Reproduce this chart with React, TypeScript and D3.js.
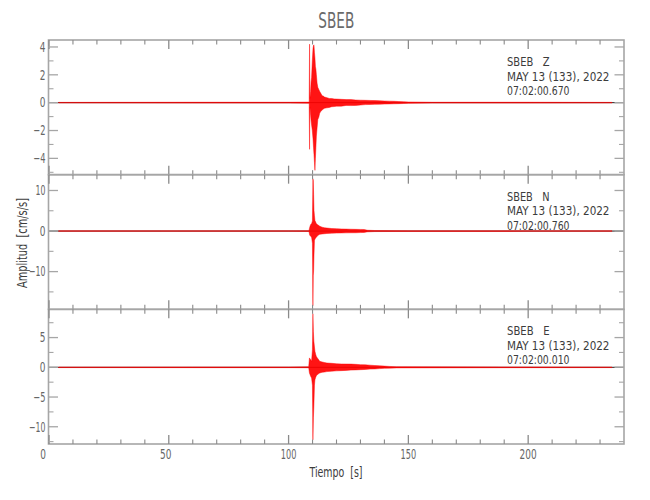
import React from 'react';
import * as d3 from 'd3';

// ---------- data ----------
const TITLE = 'SBEB';
const componentNames = ['SBEB   Z', 'SBEB   N', 'SBEB   E'];
const dateLabel = 'MAY 13 (133), 2022';
const startTimes = ['07:02:00.670', '07:02:00.760', '07:02:00.010'];

const xDomain = [0, 240];
const xMajorTicks = [0, 50, 100, 150, 200];
const xMinorTicks = [10, 20, 30, 40, 60, 70, 80, 90, 110, 120, 130, 140, 160, 170, 180, 190, 210, 220, 230];

const yDomains = [
  [-5.17, 4.5],
  [-19.3, 13.9],
  [-12.9, 9.75],
];
const yMajorTicks = [
  [-4, -2, 0, 2, 4],
  [-10, 0, 10],
  [-10, -5, 0, 5],
];
const yMinorTicks = [
  [-5, -3, -1, 1, 3],
  [-15, -5, 5],
  [-12.5, -7.5, -2.5, 2.5, 7.5],
];

// envelope of each trace (time s, upper, lower)
const zTimes = [4, 60, 100, 108.6, 108.75, 108.9, 109.2, 109.4, 109.6, 109.9, 110.2, 110.4, 110.6, 110.8, 111.0, 111.2, 111.4, 111.6, 111.9, 112.2, 112.6, 113.0, 113.5, 114.0, 114.5, 115, 116, 117, 118, 119, 120, 122, 124, 126, 128, 130, 132, 134, 136, 138, 140, 142, 144, 146, 148, 150, 160, 200, 235];
const zUpper = [0.02, 0.03, 0.03, 0.04, 4.2, 0.3, 0.8, 1.5, 1.8, 3.0, 3.9, 4.1, 4.15, 3.6, 3.2, 2.6, 2.4, 2.0, 1.4, 1.1, 0.95, 0.8, 0.65, 0.5, 0.47, 0.4, 0.36, 0.3, 0.3, 0.27, 0.26, 0.24, 0.22, 0.22, 0.19, 0.18, 0.17, 0.16, 0.15, 0.14, 0.12, 0.11, 0.1, 0.08, 0.07, 0.05, 0.03, 0.03, 0.02];
const zLower = [-0.02, -0.03, -0.03, -0.04, -3.35, -0.3, -0.9, -1.3, -1.6, -2.0, -2.6, -3.2, -3.7, -4.3, -4.86, -4.0, -3.2, -2.4, -1.8, -1.2, -1.05, -0.75, -0.62, -0.52, -0.46, -0.4, -0.37, -0.34, -0.29, -0.28, -0.25, -0.25, -0.2, -0.21, -0.2, -0.17, -0.14, -0.13, -0.12, -0.11, -0.1, -0.09, -0.08, -0.07, -0.06, -0.05, -0.03, -0.03, -0.02];

const nTimes = [4, 60, 100, 108.5, 108.8, 109.2, 109.6, 109.95, 110.15, 110.3, 110.45, 110.6, 110.8, 111.0, 111.3, 111.6, 112.0, 112.5, 113, 114, 115, 116, 118, 120, 122, 124, 126, 128, 130, 131.5, 133, 136, 150, 200, 235];
const nUpper = [0.07, 0.08, 0.08, 0.1, 0.9, 1.6, 1.8, 2.5, 12.9, 12.5, 9.0, 5.1, 3.8, 2.6, 2.2, 1.8, 1.6, 1.4, 1.2, 0.95, 0.8, 0.74, 0.62, 0.58, 0.52, 0.48, 0.45, 0.42, 0.4, 0.38, 0.2, 0.13, 0.09, 0.08, 0.07];
const nLower = [-0.07, -0.08, -0.08, -0.1, -1.0, -1.3, -1.5, -3.0, -18.4, -11.0, -9.75, -6.0, -2.3, -2.0, -1.7, -1.5, -1.2, -1.0, -0.82, -0.72, -0.66, -0.6, -0.52, -0.5, -0.47, -0.45, -0.43, -0.42, -0.38, -0.34, -0.2, -0.13, -0.09, -0.08, -0.07];

const eTimes = [4, 60, 100, 108.4, 108.7, 109.2, 109.6, 109.95, 110.15, 110.35, 110.55, 110.8, 111.0, 111.3, 111.6, 112.0, 112.5, 113, 114, 115, 116, 118, 120, 122, 124, 126, 128, 130, 132, 134, 136, 138, 140, 142, 145, 200, 235];
const eUpper = [0.05, 0.06, 0.06, 0.08, 1.58, 1.3, 1.0, 3.0, 9.0, 6.0, 4.4, 3.4, 2.7, 2.2, 1.8, 1.58, 1.3, 1.0, 0.9, 0.8, 0.72, 0.67, 0.6, 0.56, 0.55, 0.54, 0.5, 0.45, 0.42, 0.36, 0.3, 0.25, 0.2, 0.15, 0.1, 0.06, 0.05];
const eLower = [-0.05, -0.06, -0.06, -0.08, -0.95, -1.5, -1.8, -3.0, -12.2, -8.5, -6.6, -3.0, -2.1, -1.7, -1.4, -1.25, -1.1, -0.95, -0.85, -0.8, -0.72, -0.65, -0.6, -0.56, -0.52, -0.47, -0.44, -0.4, -0.36, -0.3, -0.28, -0.22, -0.17, -0.14, -0.1, -0.06, -0.05];

const traces = [
  { t: zTimes, up: zUpper, lo: zLower },
  { t: nTimes, up: nUpper, lo: nLower },
  { t: eTimes, up: eUpper, lo: eLower },
];

// ---------- layout ----------
const W = 650;
const H = 500;
const LEFT = 48.5;
const RIGHT = 624;
const TOP = 40;
const BOTTOM = 444;
const PANEL_H = (BOTTOM - TOP) / 3;
const FONT = "'Liberation Sans Narrow', 'DejaVu Sans Condensed', 'Liberation Sans', sans-serif";
const AXIS = '#a6a6a6';
const TICK = '#8a8a8a';
const LABEL = '#666666';
const TEXT = '#3c3c3c';

const fmt = (v: number) => (v < 0 ? '\u2212' + Math.abs(v) : String(v));
const widthOf = (s: string) =>
  Array.from(s).reduce((a, c) => a + (c === '1' ? 4.2 : c === '\u2212' ? 6.5 : 5.7), 0);

export default function App() {
  const x = d3.scaleLinear().domain(xDomain).range([49, 624]);

  return (
    <svg width={W} height={H} style={{ position: 'absolute', left: 0, top: 0, background: '#fff' }}>
      <rect x={0} y={0} width={W} height={H} fill="#fff" />
      <text x={(LEFT + RIGHT) / 2} y={28} textAnchor="middle" fontFamily={FONT} fontSize={21}
        fill="#6a6a6a" textLength={36} lengthAdjust="spacingAndGlyphs">{TITLE}</text>

      {traces.map((tr, i) => {
        const top = TOP + i * PANEL_H;
        const bot = top + PANEL_H;
        const y = d3.scaleLinear().domain(yDomains[i]).range([bot, top]);
        const pts = tr.t.map((t, k) => ({ t, up: tr.up[k], lo: tr.lo[k] }));
        const area = d3.area<any>().x(d => x(d.t)).y0(d => y(d.lo)).y1(d => y(d.up))(pts) || '';
        return (
          <g key={i}>
            <line x1={LEFT} x2={RIGHT} y1={y(0)} y2={y(0)} stroke="#222" strokeWidth={1} />
            <path d={area} fill="#ff0000" fillOpacity={0.92} stroke="#ff0000" strokeWidth={0.45} />
            {/* frame */}
            <rect x={LEFT} y={top} width={RIGHT - LEFT} height={PANEL_H} fill="none" stroke={AXIS} strokeWidth={1.6} />
            {/* x ticks top and bottom */}
            {xMajorTicks.map(v => (
              <g key={'xm' + v}>
                <line x1={x(v)} x2={x(v)} y1={top} y2={top + 9} stroke={TICK} strokeWidth={1.3} />
                <line x1={x(v)} x2={x(v)} y1={bot} y2={bot - 9} stroke={TICK} strokeWidth={1.3} />
              </g>
            ))}
            {xMinorTicks.map(v => (
              <g key={'xn' + v}>
                <line x1={x(v)} x2={x(v)} y1={top} y2={top + 4.5} stroke={TICK} strokeWidth={1.1} />
                <line x1={x(v)} x2={x(v)} y1={bot} y2={bot - 4.5} stroke={TICK} strokeWidth={1.1} />
              </g>
            ))}
            {/* y ticks left and right */}
            {yMajorTicks[i].map(v => (
              <g key={'ym' + v}>
                <line x1={LEFT} x2={LEFT + 9.5} y1={y(v)} y2={y(v)} stroke={AXIS} strokeWidth={1.3} />
                <line x1={RIGHT} x2={RIGHT - 9.5} y1={y(v)} y2={y(v)} stroke={AXIS} strokeWidth={1.3} />
                <text x={45.5} y={y(v) + 4.8} textAnchor="end" fontFamily={FONT} fontSize={13.5} fill={LABEL}
                  textLength={widthOf(fmt(v))} lengthAdjust="spacingAndGlyphs">{fmt(v)}</text>
              </g>
            ))}
            {yMinorTicks[i].map(v => (
              <g key={'yn' + v}>
                <line x1={LEFT} x2={LEFT + 5} y1={y(v)} y2={y(v)} stroke={AXIS} strokeWidth={1.1} />
                <line x1={RIGHT} x2={RIGHT - 5} y1={y(v)} y2={y(v)} stroke={AXIS} strokeWidth={1.1} />
              </g>
            ))}
            {/* annotation */}
            <text x={507} y={top + 26} fontFamily={FONT} fontSize={12} fill={TEXT}
              textLength={42.5} lengthAdjust="spacingAndGlyphs" style={{ whiteSpace: 'pre' }}>{componentNames[i]}</text>
            <text x={507} y={top + 40.5} fontFamily={FONT} fontSize={12} fill={TEXT}
              textLength={102.5} lengthAdjust="spacingAndGlyphs">{dateLabel}</text>
            <text x={507} y={top + 55} fontFamily={FONT} fontSize={12} fill={TEXT}
              textLength={62.5} lengthAdjust="spacingAndGlyphs">{startTimes[i]}</text>
          </g>
        );
      })}

      {/* x tick labels */}
      {xMajorTicks.map(v => (
        <text key={'xl' + v} x={x(v) - (v === 0 ? 6 : v === 50 ? 3 : 0)} y={458.5} textAnchor="middle" fontFamily={FONT}
          fontSize={13.5} fill={LABEL} textLength={widthOf(String(v))} lengthAdjust="spacingAndGlyphs">{v}</text>
      ))}

      <text x={336} y={476.5} textAnchor="middle" fontFamily={FONT} fontSize={13.5} fill={TEXT}
        textLength={53} lengthAdjust="spacingAndGlyphs" style={{ whiteSpace: 'pre' }}>{'Tiempo  [s]'}</text>
      <text transform="translate(27,243) rotate(-90)" textAnchor="middle" fontFamily={FONT} fontSize={13.5} fill={TEXT}
        textLength={90} lengthAdjust="spacingAndGlyphs" style={{ whiteSpace: 'pre' }}>{'Amplitud  [cm/s/s]'}</text>
    </svg>
  );
}
